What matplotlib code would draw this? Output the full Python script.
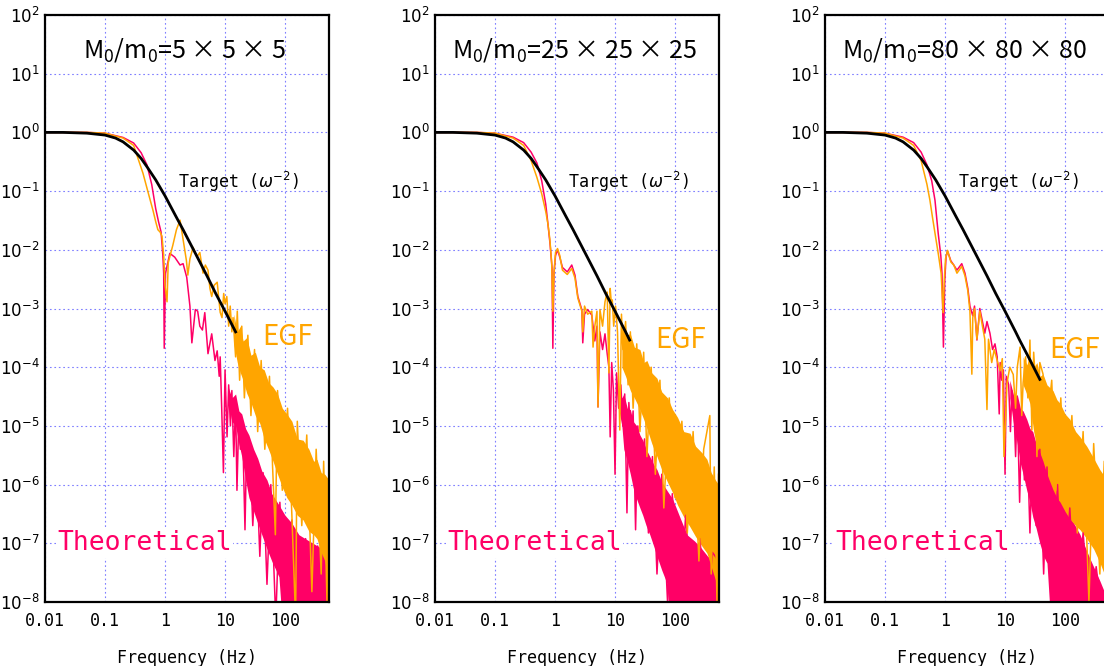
import numpy as np
import matplotlib
matplotlib.use('Agg')
import matplotlib.pyplot as plt
from matplotlib import font_manager
from matplotlib.ticker import FixedLocator, NullLocator

# ---- data ----
titles = ['5 × 5 × 5', '25 × 25 × 25', '80 × 80 × 80']
xtick_vals = [0.01, 0.1, 1, 10, 100]
xtick_labels = ['0.01', '0.1', '1', '10', '100']

# target omega^-2 spectrum (same curve, cut at different frequency per panel)
tgt_f = [0.01, 0.02, 0.05, 0.1, 0.15, 0.2, 0.3, 0.4, 0.5, 0.7, 1.0, 1.5, 2.0,
         3.0, 5.0, 7.0, 10.0, 15.0, 17.5, 25.0, 38.0]
tgt_a = [1.0, 1.0, 0.97, 0.9, 0.8, 0.69, 0.5, 0.36, 0.26, 0.155, 0.083, 0.038, 0.022,
         0.0099, 0.0036, 0.0018, 0.0009, 0.0004, 0.00029, 0.000144, 0.000062]
tgt_end = [15.0, 17.5, 38.0]

# panel 1 (5x5x5)
p1_th_f = [0.01, 0.05, 0.1, 0.2, 0.3, 0.4, 0.5, 0.6, 0.7, 0.78,
           0.86, 0.92, 0.95, 0.97, 1.02, 1.2, 1.45, 1.78, 2.0, 2.3,
           2.6, 2.8, 3.2, 3.5, 3.8, 4.2, 4.6, 5.2, 6.0, 6.8,
           7.4, 8.0, 8.3, 8.8, 9.4, 10.0, 10.8, 11.5, 12.3, 13.0,
           14.0, 15.0, 15.8, 17.0, 18.0, 19.5, 21.5, 23.0, 26.0, 29.0,
           33.0, 38.0, 43.0, 50.0, 58.0, 70.0, 82.0, 100.0, 130.0, 170.0,
           220.0, 300.0, 350.0, 450.0, 540.0]
p1_th_a = [1.0, 1.0, 0.97, 0.82, 0.66, 0.45, 0.28, 0.13, 0.05, 0.03,
           0.02, 0.008, 0.004, 2.1e-4, 0.004, 0.0087, 0.0075, 0.0055, 0.0058, 0.0034,
           0.0011, 2.6e-4, 9.6e-4, 9e-4, 5e-4, 4.3e-4, 8.5e-4, 1.7e-4, 3.7e-4, 1.3e-4,
           1.9e-4, 7e-5, 1.5e-4, 2e-5, 1.6e-6, 9e-5, 6.5e-6, 5e-5, 1e-5, 4e-5,
           3e-6, 2.5e-5, 8e-7, 1.5e-5, 4e-6, 1.2e-5, 1.7e-7, 6e-6, 4e-6, 2e-7,
           3e-6, 6e-8, 1.6e-6, 2e-8, 1e-6, 5e-9, 5e-7, 5e-9, 2.5e-7, 5e-9,
           1.2e-7, 5e-9, 9e-8, 5e-9, 6e-8]
p1_th_band_f = [11, 13, 15, 17, 19, 22, 25, 30, 35, 41, 50, 60, 79, 100, 130, 170, 250, 375, 540]
p1_th_band_hi = [5e-5, 3e-5, 3.5e-5, 1.8e-5, 1.6e-5, 9e-6, 7e-6, 4e-6, 2.8e-6, 1.7e-6,
                 1.2e-6, 7e-7, 4.5e-7, 3e-7, 2.2e-7, 1.4e-7, 1.1e-7, 8.6e-8, 6e-8]
p1_th_band_lo = [3e-5, 1.2e-5, 1e-5, 5e-6, 3e-6, 1.2e-6, 6e-7, 3.5e-7, 2.2e-7, 1.4e-7,
                 8e-8, 5e-8, 2.7e-8, 1e-9, 1e-9, 1e-9, 1e-9, 1e-9, 1e-9]

p1_egf_f = [0.01, 0.05, 0.1, 0.2, 0.3, 0.43, 0.53, 0.63, 0.7, 0.76,
            0.83, 0.89, 0.95, 1.0, 1.08, 1.13, 1.2, 1.35, 1.55, 1.78,
            2.0, 2.27, 2.4, 2.6, 2.93, 3.4, 3.8, 4.3, 4.7, 5.2,
            5.6, 6.0, 6.6, 7.4, 8.3, 8.9, 9.5, 10.0, 10.7, 11.5,
            12.2, 13.0, 13.6, 15.0, 16.0, 17.5, 19.0, 21.0, 24.0, 27.0,
            31.0, 35.0, 40.0, 46.0, 55.0, 62.0, 69.0, 75.0, 90.0, 110.0,
            130.0, 150.0, 160.0, 190.0, 230.0, 280.0, 330.0, 400.0, 440.0, 500.0,
            540.0]
p1_egf_a = [1.0, 1.0, 0.97, 0.8, 0.6, 0.2, 0.09, 0.047, 0.03, 0.022,
            0.02, 0.017, 0.008, 0.0025, 0.0013, 0.006, 0.0076, 0.012, 0.022, 0.032,
            0.015, 0.0066, 0.0037, 0.007, 0.011, 0.0076, 0.009, 0.004, 0.0055, 0.0045,
            0.0022, 0.0016, 0.0025, 0.0028, 8.6e-4, 7e-4, 0.0018, 0.0012, 0.0016, 5e-4,
            0.0011, 4e-4, 7e-4, 1.5e-4, 9e-4, 6e-5, 5e-4, 3e-5, 3.5e-4, 1.5e-5,
            2e-4, 8e-6, 1.3e-4, 4e-6, 7e-5, 2e-6, 1.4e-7, 4e-5, 8e-7, 2e-5,
            3e-7, 5e-9, 1.2e-5, 2e-7, 7e-6, 1.5e-8, 4e-6, 3e-8, 2.5e-6, 1e-8,
            1.8e-6]
p1_egf_band_f = [14, 16, 18, 20, 23, 27, 32, 38, 45, 53, 63, 75, 90, 107, 130, 160,
                 200, 250, 300, 340, 400, 460, 540]
p1_egf_band_hi = [8e-4, 4e-4, 5e-4, 2.8e-4, 3.2e-4, 1.6e-4, 1.8e-4, 1e-4, 9e-5, 5.5e-5,
                  4.6e-5, 3.5e-5, 2e-5, 1.6e-5, 1.2e-5, 6e-6, 5.7e-6, 4e-6, 2.5e-6, 2.7e-6,
                  1.6e-6, 1.5e-6, 1.2e-6]
p1_egf_band_lo = [2.5e-4, 1.2e-4, 8e-5, 6e-5, 3.6e-5, 2.5e-5, 1.5e-5, 1.1e-5, 6e-6, 4e-6,
                  2.5e-6, 1.5e-6, 9e-7, 6e-7, 4.5e-7, 3e-7, 2.5e-7, 1.6e-7, 1.4e-7, 1.2e-7,
                  7e-8, 5e-8, 2e-8]

# panel 2 (25x25x25)
p2_th_f = [0.01, 0.05, 0.1, 0.2, 0.3, 0.4, 0.5, 0.6, 0.7, 0.77,
           0.83, 0.89, 0.92, 0.96, 1.02, 1.1, 1.2, 1.33, 1.6, 1.9,
           2.15, 2.4, 2.8, 2.9, 3.1, 3.5, 4.1, 4.6, 5.0, 5.2,
           5.6, 6.2, 6.8, 7.4, 7.9, 8.3, 8.8, 9.4, 10.0, 10.6,
           11.5, 12.5, 13.5, 14.5, 15.8, 17.0, 18.5, 20.0, 22.0, 24.0,
           27.0, 31.0, 36.0, 42.0, 50.0, 60.0, 75.0, 90.0, 120.0, 150.0,
           200.0, 260.0, 330.0, 420.0, 530.0]
p2_th_a = [1.0, 1.0, 0.97, 0.83, 0.67, 0.46, 0.3, 0.15, 0.06, 0.025,
           0.012, 0.005, 2.1e-4, 0.004, 0.008, 0.01, 0.0075, 0.005, 0.0042, 0.0055,
           0.0037, 0.0016, 9.5e-4, 2.6e-4, 8e-4, 9.6e-4, 7.7e-4, 2.8e-4, 5e-4, 2.1e-5,
           4e-4, 2e-4, 3.7e-4, 1.7e-4, 1e-4, 6.5e-6, 1.2e-4, 4e-5, 1.5e-6, 8e-5,
           2e-5, 5e-5, 1e-5, 3.5e-5, 3.3e-7, 2.5e-5, 5e-6, 1.8e-5, 1.7e-7, 1e-5,
           1e-6, 6e-6, 1.5e-7, 3e-6, 3e-8, 1.5e-6, 1e-8, 7e-7, 5e-9, 3e-7,
           5e-9, 1.2e-7, 5e-9, 7e-8, 5e-8]
p2_th_band_f = [11, 13, 14, 16, 18, 20, 23, 26, 29, 33, 38, 44, 50, 60, 73, 91,
                120, 158, 210, 265, 350, 470, 530]
p2_th_band_hi = [5e-5, 3e-5, 3.5e-5, 2e-5, 1.9e-5, 1.2e-5, 1e-5, 7e-6, 5.7e-6, 4e-6,
                 3e-6, 2.2e-6, 1.8e-6, 1.1e-6, 8e-7, 5.7e-7, 2.8e-7, 1.4e-7, 1.1e-7, 8.6e-8,
                 6e-8, 5e-8, 4.5e-8]
p2_th_band_lo = [2.5e-5, 1e-5, 4e-6, 2.5e-6, 1.5e-6, 9e-7, 5.6e-7, 4e-7, 3e-7, 2e-7,
                 1.4e-7, 9e-8, 6e-8, 3.5e-8, 2.1e-8, 1e-9, 1e-9, 1e-9, 1e-9, 1e-9,
                 1e-9, 1e-9, 1e-9]

p2_egf_f = [0.01, 0.05, 0.1, 0.2, 0.3, 0.4, 0.5, 0.6, 0.7, 0.76,
            0.82, 0.88, 0.92, 0.96, 1.02, 1.1, 1.2, 1.33, 1.6, 1.9,
            2.15, 2.4, 2.8, 2.9, 3.1, 3.5, 4.1, 4.3, 4.6, 5.0,
            5.2, 5.6, 6.2, 6.8, 7.4, 7.9, 8.3, 8.7, 9.0, 9.5,
            10.2, 11.0, 12.0, 12.8, 13.5, 15.0, 16.5, 18.0, 20.0, 23.0,
            26.0, 30.0, 34.0, 40.0, 47.0, 56.0, 65.0, 80.0, 100.0, 130.0,
            160.0, 200.0, 250.0, 300.0, 380.0, 400.0, 450.0, 500.0, 530.0]
p2_egf_a = [1.0, 1.0, 0.97, 0.8, 0.6, 0.33, 0.17, 0.09, 0.045, 0.028,
            0.015, 0.006, 9e-4, 0.004, 0.009, 0.0105, 0.008, 0.0045, 0.0038, 0.0048,
            0.0033, 0.0015, 9e-4, 4e-4, 0.0011, 8e-4, 9e-4, 2.2e-4, 5e-4, 9e-4,
            2.1e-5, 9.6e-4, 5e-4, 0.0013, 0.0019, 8e-5, 0.0022, 0.0012, 0.0014, 5e-4,
            0.0011, 4e-4, 8.5e-6, 8e-4, 2e-4, 6e-4, 5e-5, 4e-4, 2e-5, 2.5e-4,
            8e-6, 1.8e-4, 3e-6, 1e-4, 1.5e-6, 6e-5, 4e-7, 3e-5, 6e-7, 1.2e-5,
            1.5e-7, 8e-6, 5e-8, 4e-6, 1.5e-5, 3e-8, 2e-6, 1e-8, 1.5e-6]
p2_egf_band_f = [13, 15, 18, 21, 26, 30, 34, 41, 50, 60, 75, 91, 110, 140, 178,
                 220, 280, 340, 400, 470, 530]
p2_egf_band_hi = [6e-4, 3.5e-4, 3.7e-4, 2.2e-4, 2e-4, 1.2e-4, 1.3e-4, 8e-5, 6.5e-5, 3.8e-5,
                  3e-5, 1.9e-5, 1.4e-5, 8e-6, 7.5e-6, 4.5e-6, 3.5e-6, 2.7e-6, 1.6e-6, 1.2e-6,
                  1e-6]
p2_egf_band_lo = [1e-4, 7e-5, 4e-5, 3e-5, 1.9e-5, 1.3e-5, 9e-6, 5e-6, 3e-6, 1.8e-6,
                  1.1e-6, 7.3e-7, 4.5e-7, 2.8e-7, 1.9e-7, 1.3e-7, 9e-8, 6.8e-8, 4e-8, 2.4e-8,
                  1.5e-8]

# panel 3 (80x80x80)
p3_th_f = [0.01, 0.05, 0.1, 0.2, 0.3, 0.4, 0.5, 0.6, 0.68, 0.77,
           0.85, 0.89, 0.94, 0.99, 1.04, 1.1, 1.25, 1.4, 1.58, 1.9,
           2.15, 2.4, 2.6, 2.9, 3.1, 3.4, 3.8, 4.2, 4.6, 5.0,
           5.6, 6.2, 6.8, 7.4, 8.0, 8.3, 8.8, 9.4, 10.0, 10.5,
           11.5, 12.3, 13.0, 14.0, 15.0, 16.0, 17.5, 19.0, 21.0, 23.0,
           26.0, 29.0, 33.0, 38.0, 44.0, 50.0, 60.0, 75.0, 90.0, 120.0,
           150.0, 200.0, 260.0, 330.0, 420.0, 530.0]
p3_th_a = [1.0, 1.0, 0.97, 0.83, 0.67, 0.46, 0.28, 0.15, 0.07, 0.019,
           0.008, 0.004, 2.2e-4, 0.003, 0.0075, 0.0095, 0.0065, 0.0055, 0.0045, 0.0058,
           0.004, 0.0022, 0.0011, 7.5e-4, 0.0011, 2.9e-4, 0.001, 6e-4, 3.8e-4, 6e-4,
           3.8e-4, 2e-4, 2.5e-4, 1.5e-4, 1.6e-5, 1.2e-4, 6e-5, 9e-5, 1.5e-6, 7e-5,
           5e-5, 8e-6, 4e-5, 2.4e-5, 3e-6, 2.5e-5, 5e-7, 1.5e-5, 1.2e-6, 1.1e-5,
           1.5e-7, 6e-6, 2e-7, 4e-6, 3e-8, 2e-6, 1e-8, 1e-6, 5e-9, 4e-7,
           5e-9, 1.5e-7, 5e-9, 4e-8, 5e-9, 1.2e-8]
p3_th_band_f = [12, 14, 16, 18, 20, 23, 26, 29, 33, 38, 44, 50, 63, 83, 107,
                140, 178, 250, 380, 530]
p3_th_band_hi = [6e-5, 3.2e-5, 3.4e-5, 2e-5, 1.8e-5, 1.3e-5, 9e-6, 8e-6, 5e-6, 4.3e-6,
                 2.6e-6, 2e-6, 1.1e-6, 6.3e-7, 3.3e-7, 2.2e-7, 1.4e-7, 6e-8, 2.3e-8, 1e-8]
p3_th_band_lo = [3e-5, 1e-5, 5e-6, 2.3e-6, 1.5e-6, 8e-7, 5e-7, 2.8e-7, 1.8e-7, 1e-7,
                 6e-8, 4.6e-8, 1e-9, 1e-9, 1e-9, 1e-9, 1e-9, 1e-9, 1e-9, 1e-9]

p3_egf_f = [0.01, 0.05, 0.1, 0.2, 0.3, 0.4, 0.5, 0.56, 0.62, 0.7,
            0.78, 0.86, 0.93, 0.97, 1.02, 1.1, 1.25, 1.4, 1.58, 1.9,
            2.15, 2.4, 2.6, 2.8, 2.9, 3.1, 3.4, 3.8, 4.2, 4.6,
            5.0, 5.3, 6.0, 6.6, 7.4, 8.3, 9.0, 9.6, 10.8, 12.0,
            13.7, 15.0, 16.0, 17.8, 19.0, 20.0, 22.0, 24.0, 26.0, 28.0,
            30.0, 32.0, 34.0, 38.0, 43.0, 50.0, 60.0, 70.0, 85.0, 100.0,
            130.0, 160.0, 200.0, 250.0, 300.0, 380.0, 450.0, 530.0]
p3_egf_a = [1.0, 1.0, 0.97, 0.8, 0.6, 0.33, 0.13, 0.07, 0.035, 0.016,
            0.008, 0.004, 8.5e-4, 0.003, 0.007, 0.0098, 0.0062, 0.0055, 0.004, 0.0052,
            0.0036, 0.002, 9e-4, 7.6e-5, 7e-4, 0.001, 3e-4, 9e-4, 5e-4, 3e-4,
            1.9e-5, 3e-4, 1.2e-4, 2e-4, 1.3e-4, 8.7e-5, 1.4e-4, 3e-6, 5.4e-5, 1e-4,
            7.5e-5, 2e-5, 1e-4, 2.2e-4, 1.5e-5, 5.4e-5, 1.5e-4, 3e-5, 2.9e-4, 8.5e-6,
            1.8e-4, 6e-5, 3e-6, 1.2e-4, 7.6e-5, 1e-5, 6e-5, 8e-7, 3e-5, 4e-7,
            1.5e-5, 1.5e-7, 8e-6, 1e-8, 5e-6, 3e-8, 2.5e-6, 1e-8]
p3_egf_band_f = [20, 23, 26, 30, 34, 38, 43, 50, 63, 73, 83, 100, 120, 150, 178,
                 230, 300, 380, 450, 530]
p3_egf_band_hi = [1.5e-4, 1.1e-4, 1.5e-4, 1e-4, 1.2e-4, 7e-5, 7.6e-5, 5e-5, 4e-5, 2.8e-5,
                  2.4e-5, 1.6e-5, 1.3e-5, 8e-6, 6.5e-6, 4.5e-6, 2.8e-6, 1.8e-6, 1.4e-6, 1.1e-6]
p3_egf_band_lo = [5e-5, 3.5e-5, 2.4e-5, 8e-6, 4.3e-6, 3.5e-6, 2.5e-6, 1.5e-6, 8.2e-7, 6e-7,
                  5e-7, 3.5e-7, 2.6e-7, 2e-7, 1.7e-7, 1.2e-7, 8e-8, 4.7e-8, 3e-8, 2e-8]

# ---- plotting ----
PINK = '#ff0066'
ORANGE = '#ffa500'
GRID = '#7f7fff'

names = {f.name for f in font_manager.fontManager.ttflist}
if 'Noto Sans Mono CJK JP' in names:
    MONO, mono_scale = 'Noto Sans Mono CJK JP', 1.2
else:
    MONO, mono_scale = 'DejaVu Sans Mono', 1.0
NARROW = 'Noto Sans CJK JP' if 'Noto Sans CJK JP' in names else 'DejaVu Sans'

panels = [
    (p1_th_f, p1_th_a, p1_th_band_f, p1_th_band_lo, p1_th_band_hi,
     p1_egf_f, p1_egf_a, p1_egf_band_f, p1_egf_band_lo, p1_egf_band_hi),
    (p2_th_f, p2_th_a, p2_th_band_f, p2_th_band_lo, p2_th_band_hi,
     p2_egf_f, p2_egf_a, p2_egf_band_f, p2_egf_band_lo, p2_egf_band_hi),
    (p3_th_f, p3_th_a, p3_th_band_f, p3_th_band_lo, p3_th_band_hi,
     p3_egf_f, p3_egf_a, p3_egf_band_f, p3_egf_band_lo, p3_egf_band_hi),
]
egf_pos = [(0.764, 0.451), (0.775, 0.446), (0.79, 0.43)]
theo_x = [0.042, 0.042, 0.035]

fig = plt.figure(figsize=(11.04, 6.66), dpi=100)

for i, (thf, tha, thbf, thlo, thhi, ef, ea, ebf, elo, ehi) in enumerate(panels):
    ax = fig.add_axes([(45 + 390 * i) / 1104, 64 / 666, 284 / 1104, 587 / 666])
    ax.set_xscale('log')
    ax.set_yscale('log')

    ax.fill_between(thbf, thlo, thhi, color=PINK, lw=0)
    ax.plot(thf, tha, color=PINK, lw=1.1)
    ax.fill_between(ebf, elo, ehi, color=ORANGE, lw=0)
    ax.plot(ef, ea, color=ORANGE, lw=1.1)

    tf = [f for f in tgt_f if f <= tgt_end[i]]
    ta = tgt_a[:len(tf)]
    ax.plot(tf, ta, color='black', lw=2)

    ax.set_xlim(0.01, 540)
    ax.set_ylim(1e-8, 1e2)
    ax.xaxis.set_major_locator(FixedLocator(xtick_vals))
    ax.set_xticklabels(xtick_labels, family=MONO, fontsize=11 * mono_scale)
    ax.yaxis.set_major_locator(FixedLocator(10.0 ** np.arange(-8, 3)))
    ax.xaxis.set_minor_locator(NullLocator())
    ax.yaxis.set_minor_locator(NullLocator())
    ax.tick_params(length=0, labelsize=12)
    ax.tick_params(axis='x', pad=7)
    ax.tick_params(axis='y', pad=4)
    ax.grid(True, color=GRID, linestyle=(0, (1.5, 2.5)), lw=0.8)
    ax.set_axisbelow(True)
    for s in ax.spines.values():
        s.set_linewidth(1.6)

    ax.set_xlabel('Frequency (Hz)', family=MONO, fontsize=12 * mono_scale, labelpad=14)

    ax.text(0.49, 0.94, r'M$_\mathregular{0}$/m$_\mathregular{0}$=' + titles[i],
            transform=ax.transAxes, ha='center', va='center',
            family=NARROW, fontsize=18)
    ax.text(0.47, 0.715, r'Target ($\omega^{-2}$)', transform=ax.transAxes,
            ha='left', va='center', family=MONO, fontsize=12 * mono_scale)
    ax.text(egf_pos[i][0], egf_pos[i][1], 'EGF', transform=ax.transAxes,
            ha='left', va='center', family=NARROW, fontsize=20, color=ORANGE)
    ax.text(theo_x[i], 0.10, 'Theoretical', transform=ax.transAxes,
            ha='left', va='center', family=MONO, fontsize=19 * mono_scale, color=PINK,
            bbox=dict(facecolor='white', edgecolor='none', pad=1))

fig.savefig('out.png', dpi=100)
